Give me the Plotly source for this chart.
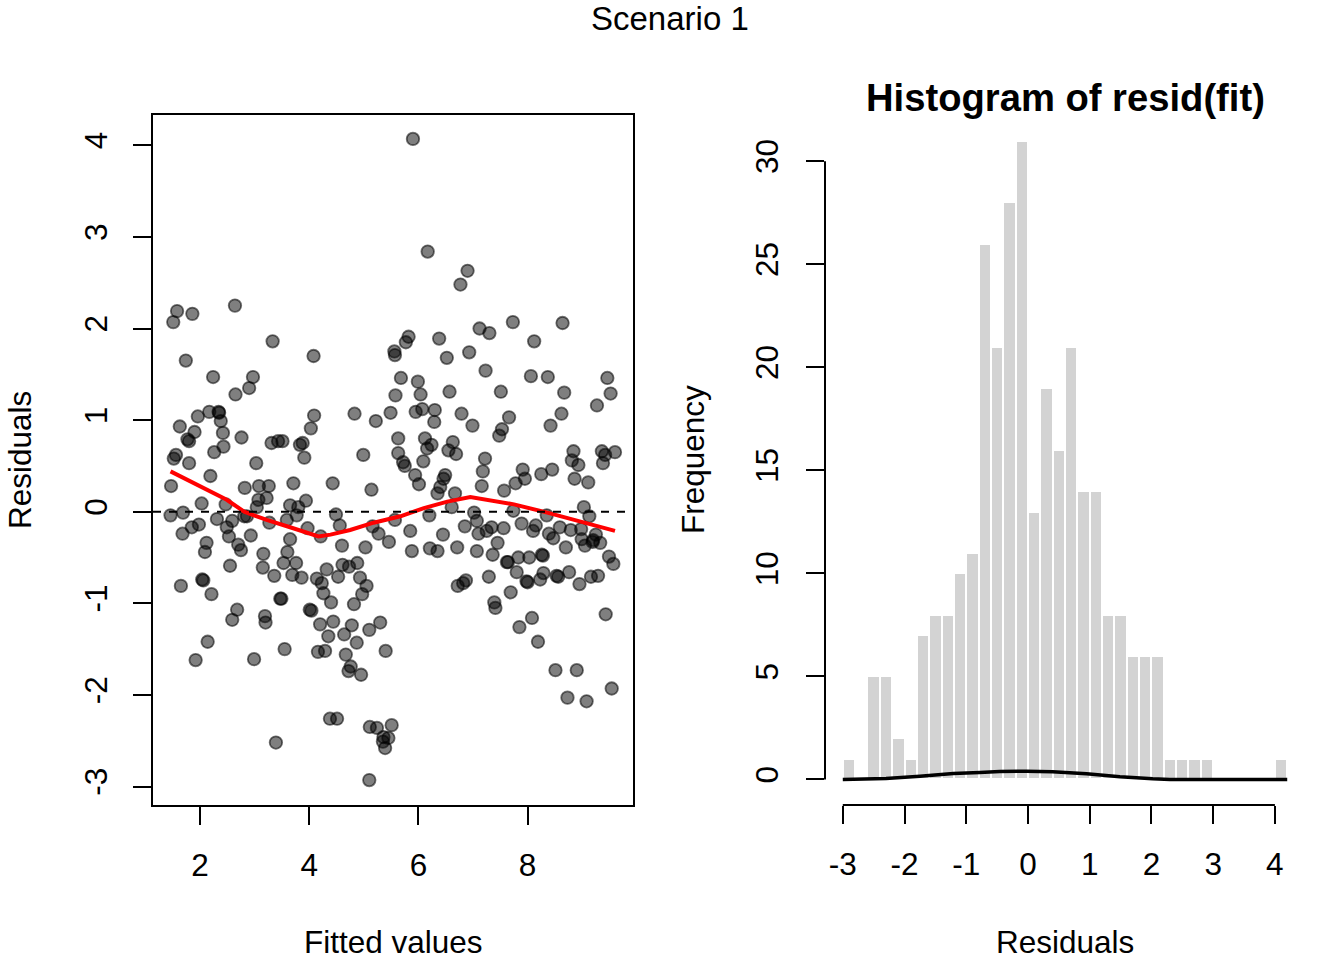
import plotly.graph_objects as go

# ---- data -------------------------------------------------------------
fitted = [
    1.58, 1.86, 1.51, 2.64, 3.33, 4.08, 1.74, 2.24, 2.97, 2.90, 2.65, 1.96, 2.17, 2.34, 2.35,
    2.38, 1.63, 1.90, 1.77, 1.80, 2.42, 2.43, 2.26, 2.76, 3.31, 3.43, 3.51, 3.83, 3.88, 4.03,
    4.09, 4.83, 5.22, 5.49, 5.56, 5.57, 5.68, 5.58, 5.63, 5.63, 4.99, 3.91, 3.03, 1.56, 1.52,
    1.80, 2.19, 1.47, 2.82, 3.08, 3.26, 3.71, 4.43, 5.14, 2.03, 2.47, 3.07, 3.22, 3.04, 3.65,
    3.80, 3.94, 1.46, 1.69, 2.31, 2.59, 2.81, 2.86, 3.27, 3.59, 3.77, 4.49, 4.56, 3.97, 4.21,
    1.68, 1.85, 1.98, 2.49, 2.53, 2.93, 3.65, 4.60, 5.03, 5.16, 5.27, 5.46, 5.57, 2.12, 2.09,
    2.70, 2.75, 3.16, 3.60, 3.15, 2.55, 3.53, 3.76, 3.36, 3.69, 3.86, 4.14, 4.23, 4.26, 4.32,
    4.53, 4.61, 4.73, 4.88, 4.93, 5.05, 4.97, 4.40, 4.82, 2.04, 2.06, 1.65, 2.21, 3.47, 3.49,
    4.01, 4.04, 2.68, 2.59, 3.19, 3.20, 4.20, 4.44, 4.78, 4.64, 4.35, 4.87, 5.10, 5.30, 5.40,
    4.16, 4.29, 4.67, 2.14, 1.92, 2.99, 3.55, 4.76, 4.72, 4.95, 4.38, 4.51, 3.39, 5.11, 5.24,
    5.51, 5.36, 5.35, 5.39, 5.45, 5.10, 5.90, 6.17, 6.90, 6.77, 7.73, 8.64, 7.12, 7.30, 8.12,
    5.82, 5.77, 6.38, 6.52, 6.93, 7.23, 8.06, 8.37, 9.46, 9.52, 9.27, 5.99, 6.04, 6.57, 7.51,
    8.67, 5.95, 6.07, 6.30, 6.29, 6.79, 6.99, 7.66, 7.53, 7.48, 8.62, 8.42, 6.12, 6.24, 6.16,
    6.63, 6.55, 6.69, 7.22, 8.84, 8.81, 9.36, 9.42, 9.60, 6.09, 5.72, 5.75, 8.93, 9.38, 7.18,
    5.94, 6.01, 6.49, 6.46, 6.40, 6.35, 6.67, 6.61, 7.16, 7.57, 7.78, 7.95, 7.91, 8.25, 8.45,
    8.86, 9.11, 9.03, 9.13, 6.20, 5.85, 5.88, 6.21, 6.35, 6.45, 6.71, 7.07, 6.85, 7.02, 7.07,
    7.10, 7.25, 7.34, 7.56, 7.74, 7.89, 8.10, 8.15, 8.35, 8.39, 8.47, 8.59, 8.79, 8.98, 8.70,
    8.99, 9.05, 9.20, 9.25, 9.33, 9.19, 7.45, 7.36, 7.62, 7.64, 7.83, 8.03, 8.26, 8.28, 7.80,
    8.29, 8.23, 7.98, 8.00, 8.53, 8.56, 8.76, 8.95, 9.16, 9.29, 9.49, 9.57, 6.72, 6.87, 6.82,
    7.29, 7.69, 7.39, 7.41, 8.08, 7.85, 8.19, 9.43, 8.51, 8.90, 8.73, 9.08, 9.54,
]
residuals = [
    2.19, 2.16, 2.07, 2.25, 1.86, 1.70, 1.65, 1.47, 1.47, 1.35, 1.28, 1.04, 1.09, 1.09, 1.08,
    0.99, 0.93, 0.87, 0.79, 0.77, 0.86, 0.71, 0.65, 0.81, 0.75, 0.77, 0.77, 0.73, 0.75, 0.91,
    1.05, 1.07, 0.99, 1.08, 1.75, 1.71, 1.46, 1.27, 0.80, 0.64, 0.62, 0.59, 0.53, 0.62, 0.58,
    0.53, 0.39, 0.28, 0.26, 0.28, 0.28, 0.31, 0.31, 0.24, 0.09, 0.08, 0.13, 0.15, 0.05, 0.07,
    0.05, 0.12, -0.04, -0.01, -0.08, -0.10, -0.05, -0.05, -0.12, -0.09, -0.04, -0.03, -0.15, -0.18, -0.27,
    -0.24, -0.17, -0.14, -0.17, -0.27, -0.26, -0.30, -0.37, -0.39, -0.16, -0.24, -0.33, -0.09, -0.34, -0.44,
    -0.36, -0.42, -0.46, -0.44, -0.61, -0.59, -0.56, -0.56, -0.70, -0.69, -0.72, -0.73, -0.78, -0.89, -0.63,
    -0.71, -0.58, -0.60, -0.56, -0.72, -0.81, -0.90, -0.99, -1.01, -0.74, -0.75, -0.81, -0.90, -0.95, -0.95,
    -1.07, -1.08, -1.07, -1.18, -1.14, -1.21, -1.23, -1.20, -1.24, -1.34, -1.36, -1.43, -1.29, -1.21, -1.52,
    -1.53, -1.52, -1.56, -1.42, -1.62, -1.61, -1.50, -1.69, -1.74, -1.78, -2.26, -2.26, -2.52, -2.35, -2.36,
    -2.33, -2.46, -2.51, -2.58, -2.47, -2.93, 4.07, 2.84, 2.63, 2.48, 2.07, 2.06, 2.00, 1.95, 1.86,
    1.91, 1.85, 1.89, 1.68, 1.74, 1.54, 1.48, 1.47, 1.46, 1.29, 1.16, 1.42, 1.28, 1.31, 1.31,
    1.30, 1.09, 1.12, 1.11, 0.98, 1.07, 0.94, 1.03, 0.90, 0.83, 1.07, 0.94, 0.80, 0.73, 0.69,
    0.76, 0.67, 0.63, 0.58, 0.66, 0.56, 0.66, 0.62, 0.65, 0.55, 0.54, 0.50, 0.51, 0.53, 0.44,
    0.40, 0.30, 0.40, 0.36, 0.27, 0.20, 0.20, 0.05, 0.28, 0.23, 0.31, 0.36, 0.46, 0.41, 0.46,
    0.36, 0.32, 0.05, -0.05, -0.04, -0.21, -0.43, -0.40, -0.43, -0.25, -0.39, -0.43, -0.16, -0.01, -0.10,
    -0.24, -0.21, -0.17, -0.18, 0.01, -0.13, -0.21, -0.15, -0.04, -0.24, -0.29, -0.17, -0.20, -0.19, -0.39,
    -0.30, -0.37, -0.31, -0.25, -0.34, -0.33, -0.34, -0.47, -0.55, -0.55, -0.50, -0.50, -0.47, -0.48, -0.66,
    -0.67, -0.74, -0.76, -0.77, -0.70, -0.71, -0.66, -0.79, -0.71, -0.70, -0.49, -0.57, -0.81, -0.75, -0.78,
    -0.71, -0.88, -0.99, -1.05, -1.16, -1.26, -1.42, -1.12, -1.73, -1.73, -2.03, -2.07, -1.93,
]

# smoother through the residuals (red line)
smooth_x = [1.46, 2.00, 2.49, 2.81, 3.22, 3.65, 3.96, 4.17, 4.39, 4.75, 5.18, 5.67,
            6.10, 6.53, 6.95, 7.75, 8.36, 8.97, 9.60]
smooth_y = [0.44, 0.28, 0.13, 0.00, -0.09, -0.17, -0.23, -0.27, -0.25, -0.20, -0.12, -0.05,
            0.04, 0.11, 0.16, 0.08, -0.01, -0.11, -0.21]

# histogram of the residuals
bin_edges = [round(-3.0 + 0.2 * i, 1) for i in range(37)]
bin_counts = [1, 0, 5, 5, 2, 1, 7, 8, 8, 10, 11, 26, 21, 28, 31, 13, 19, 16, 21, 14, 14,
              8, 8, 6, 6, 6, 1, 1, 1, 1, 0, 0, 0, 0, 0, 1]
bin_mid = [(a + b) / 2 for a, b in zip(bin_edges[:-1], bin_edges[1:])]

# density curve drawn on top of the histogram
dens_x = [-3.0, -2.3, -1.75, -1.21, -0.78, -0.46, -0.03, 0.40, 0.95, 1.49, 2.02, 2.30, 3.0, 4.2]
dens_y = [0.0, 0.05, 0.16, 0.29, 0.34, 0.39, 0.40, 0.37, 0.28, 0.13, 0.03, 0.0, 0.0, 0.0]

x_ticks_left = [2, 4, 6, 8]
y_ticks_left = [-3, -2, -1, 0, 1, 2, 3, 4]
x_ticks_hist = [-3, -2, -1, 0, 1, 2, 3, 4]
y_ticks_hist = [0, 5, 10, 15, 20, 25, 30]

FONT = "Liberation Sans"
FS = 31.5
W, H = 1344, 960

fig = go.Figure()

fig.add_trace(go.Scatter(
    x=fitted, y=residuals, mode="markers",
    marker=dict(size=12.5, color="rgba(0,0,0,0.5)",
                line=dict(color="rgba(0,0,0,0.55)", width=1.8)),
    xaxis="x", yaxis="y", showlegend=False))
fig.add_trace(go.Scatter(
    x=smooth_x, y=smooth_y, mode="lines",
    line=dict(color="red", width=4), xaxis="x", yaxis="y", showlegend=False))

fig.add_trace(go.Bar(
    x=bin_mid, y=bin_counts, width=0.2,
    marker=dict(color="#d3d3d3", line=dict(color="white", width=2)),
    xaxis="x2", yaxis="y2", showlegend=False))
fig.add_trace(go.Scatter(
    x=dens_x, y=dens_y, mode="lines", line=dict(color="black", width=3.5),
    xaxis="x2", yaxis="y2", showlegend=False))

axis_common = dict(showgrid=False, zeroline=False, ticks="outside", ticklen=18,
                   tickwidth=2, tickcolor="black",
                   tickfont=dict(family=FONT, size=FS, color="black"))


def labels(vals):
    # plain hyphen for negatives, as in the reference
    return [str(v) for v in vals]


fig.update_layout(
    width=W, height=H,
    margin=dict(l=0, r=0, t=0, b=0),
    paper_bgcolor="white", plot_bgcolor="white",
    bargap=0,
    xaxis=dict(domain=[153 / W, 633 / W], range=[1.139, 9.93], tickvals=x_ticks_left,
               ticktext=labels(x_ticks_left),
               showline=True, mirror=True, linecolor="black", linewidth=2,
               anchor="y", ticklabelstandoff=13, **axis_common),
    yaxis=dict(domain=[1 - 805 / H, 1 - 115 / H], range=[-3.202, 4.331], tickvals=y_ticks_left,
               ticktext=labels(y_ticks_left),
               showline=True, mirror=True, linecolor="black", linewidth=2,
               tickangle=-90, anchor="x", ticklabelstandoff=13, **axis_common),
    xaxis2=dict(domain=[825 / W, 1305 / W], range=[-3.288, 4.488], tickvals=x_ticks_hist,
                ticktext=labels(x_ticks_hist),
                showline=False, anchor="y2", ticklabelstandoff=13, **axis_common),
    yaxis2=dict(domain=[1 - 805 / H, 1 - 115 / H], range=[-1.24, 32.24], tickvals=y_ticks_hist,
                ticktext=labels(y_ticks_hist),
                showline=False, tickangle=-90, anchor="x2", ticklabelstandoff=15, **axis_common),
)

# zero reference line and the detached axis lines of the histogram
fig.add_shape(type="line", xref="x domain", yref="y", x0=0, x1=1, y0=0, y1=0,
              line=dict(color="black", width=2, dash="8px,8px"))
fig.add_shape(type="line", xref="x2", yref="y2 domain", x0=x_ticks_hist[0], x1=x_ticks_hist[-1],
              y0=0, y1=0, line=dict(color="black", width=2))
fig.add_shape(type="line", xref="x2 domain", yref="y2", x0=0, x1=0,
              y0=y_ticks_hist[0], y1=y_ticks_hist[-1], line=dict(color="black", width=2))

texts = [
    ("Scenario 1", 670, 19, 0, 33, False),
    ("Histogram of resid(fit)", 1065, 98, 0, 38.2, True),
    ("Fitted values", 393, 942, 0, FS, False),
    ("Residuals", 1065, 942, 0, FS, False),
    ("Residuals", 20, 460, -90, FS, False),
    ("Frequency", 693, 460, -90, FS, False),
]
for txt, px, py, ang, size, bold in texts:
    fig.add_annotation(text="<b>%s</b>" % txt if bold else txt,
                       x=px / W, y=1 - py / H, xref="paper", yref="paper",
                       xanchor="center", yanchor="middle", showarrow=False, textangle=ang,
                       font=dict(family=FONT, size=size, color="black"))

# the page body has a default margin; drop it so the figure fills the window
fig.write_html("out.html", config={"displayModeBar": False},
               post_script="document.body.style.margin='0';")
